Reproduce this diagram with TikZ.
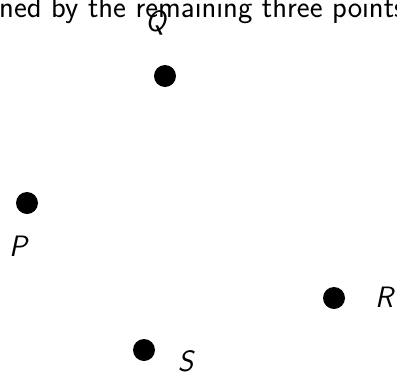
\documentclass[tikz,border=0pt]{standalone}
\begin{document}
\begin{tikzpicture}[x=1pt,y=-1pt,
  pt/.style={circle,fill=black,inner sep=0pt,minimum size=22pt},
  lbl/.style={inner sep=0pt,anchor=base,font=\fontsize{29.5}{35}\selectfont\sffamily\itshape},
  toptext/.style={inner sep=0pt,anchor=base west,font=\fontsize{30.6}{36}\selectfont\sffamily}]
\clip (0,0) rectangle (397,373);
\node[toptext] (cap) at (-1,17) {ned by the remaining three points};
\node[pt] (Q) at (165,76) {};
\node[pt] (P) at (27,203) {};
\node[pt] (R) at (334,298) {};
\node[pt] (S) at (144,350) {};
\node[lbl] (lQ) at (155.5,31) {Q};
\node[lbl] (lP) at (18,256) {P};
\node[lbl] (lR) at (384,307) {R};
\node[lbl] (lS) at (185.5,371) {S};
\end{tikzpicture}
\end{document}
